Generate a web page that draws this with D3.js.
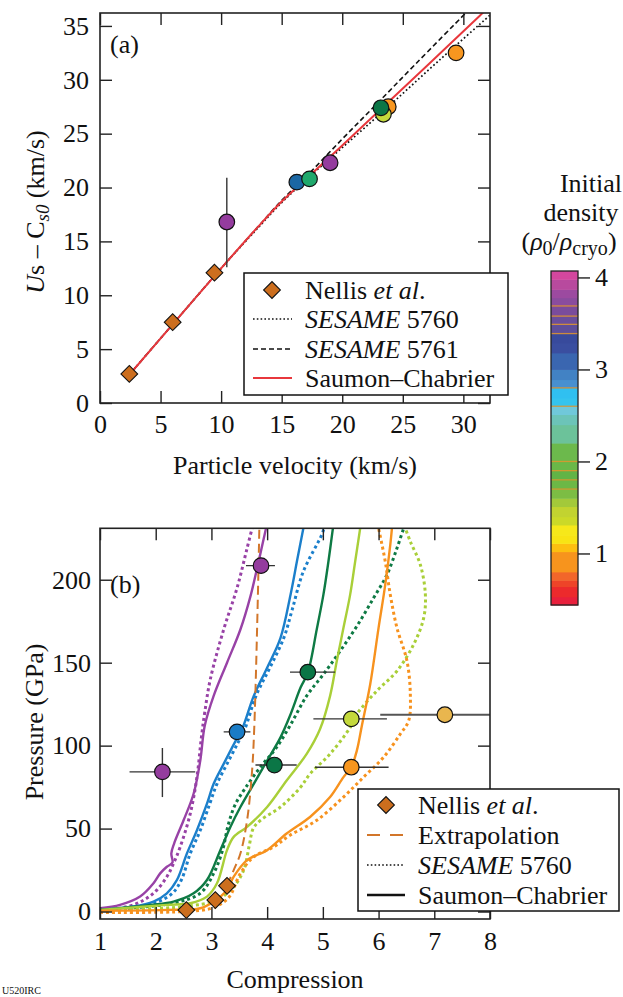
<!DOCTYPE html>
<html><head><meta charset="utf-8">
<script src="https://cdn.jsdelivr.net/npm/d3@7"></script>
<style>
body{margin:0;background:#fff}
svg{display:block}
text{font-family:"Liberation Serif","Times New Roman",serif;fill:#111}
</style>
</head><body>
<svg id="c" width="623" height="997"></svg>
<script>
// ---------------- DATA ----------------
const aTicksX = [0,5,10,15,20,25,30];
const aTicksY = [0,5,10,15,20,25,30,35];
const bTicksX = [1,2,3,4,5,6,7,8];
const bTicksY = [0,50,100,150,200];
const cbTicks = [1,2,3,4];

// Panel (a): Us - Cs0 vs particle velocity
const nellisA = [[2.42,2.7],[6.0,7.5],[9.45,12.1]];
const hugSC   = [[2.4,2.6],[6,7.3],[10,12.5],[13,16.3],[15,18.7],[17,20.8],[20,23.9],[23.4,27.5],[27,31.3],[31.4,36.0],[32.5,37.2]];
const hug5761 = [[2.4,2.6],[6,7.3],[10,12.5],[13,16.3],[15,18.8],[17,21.0],[20,24.5],[22.8,27.7],[26,31.4],[30.2,36.2],[31,37.1]];
const hug5760 = [[2.4,2.6],[6,7.3],[10,12.5],[13,16.2],[15,18.6],[17,20.7],[20,23.7],[23.7,27.4],[28,31.8],[32.2,36.0],[33,36.8]];
const pointsA = [
  {g:"P",  x:10.47, y:16.8, xl:10.1, xh:10.84, yl:12.6, yh:20.9},
  {g:"Bd", x:16.25, y:20.5},
  {g:"Gm", x:17.3,  y:20.8},
  {g:"P",  x:19.0,  y:22.3},
  {g:"O",  x:23.8,  y:27.5},
  {g:"Y",  x:23.4,  y:26.8},
  {g:"G",  x:23.2,  y:27.4},
  {g:"O",  x:29.4,  y:32.5}
];

// Panel (b): pressure vs compression
const nellisB = [[2.55,0.9],[3.07,6.9],[3.28,15.5]];
const extrap  = [[3.28,16],[3.40,25],[3.52,35],[3.64,55],[3.73,85],[3.77,112],[3.82,171],[3.86,231]];
const scP  = [[1,2],[1.36,4],[1.72,9],[1.96,17],[2.08,23],[2.2,27],[2.3,29.5],[2.28,35],[2.33,41],[2.5,55],[2.68,71],[2.8,91],[2.88,112],[3.04,130],[3.28,150],[3.52,170],[3.7,190],[3.82,207],[3.94,225],[3.98,231]];
const sesP = [[1,0.5],[1.6,4],[1.96,11],[2.2,21],[2.32,29],[2.44,39],[2.62,59],[2.74,81],[2.82,105],[2.88,120],[2.98,140],[3.22,170],[3.46,195],[3.64,219],[3.73,231]];
const scB  = [[1,1],[1.6,3],[1.96,6],[2.2,11],[2.38,19],[2.56,35],[2.74,49],[2.92,65],[3.04,77],[3.22,89],[3.42,102],[3.55,110],[3.76,130],[4.0,147],[4.24,165],[4.42,191],[4.54,212],[4.65,231]];
const sesB = [[1,0.5],[1.7,3],[2.05,6],[2.3,11],[2.46,19],[2.62,35],[2.8,49],[2.97,65],[3.1,77],[3.28,89],[3.48,102],[3.6,110],[3.8,130],[4.05,147],[4.3,165],[4.45,182],[4.65,205],[4.98,227],[5.02,231]];
const scG  = [[1,1],[1.9,4],[2.32,6],[2.68,11],[2.92,19],[3.16,37],[3.34,51],[3.52,63],[3.76,77],[4.0,91],[4.24,105],[4.41,118],[4.6,135],[4.73,144],[4.89,170],[5.01,191],[5.10,211],[5.18,231]];
const sesG = [[1.5,2],[2.3,5],[2.8,11],[3.04,23],[3.2,37],[3.3,52],[3.42,64],[3.6,74],[3.9,88],[4.15,98],[4.41,112],[4.71,130],[5.01,143],[5.31,157],[5.61,172],[5.91,189],[6.15,203],[6.33,219],[6.45,231]];
const scY  = [[1,1],[2.2,4],[2.62,5],[2.92,9],[3.1,17],[3.28,37],[3.4,45],[3.64,51],[4.0,63],[4.35,79],[4.71,95],[4.95,110],[5.13,130],[5.25,151],[5.37,171],[5.49,191],[5.58,211],[5.67,231]];
const sesY = [[1,0.5],[2.5,3],[3.1,7],[3.4,15],[3.58,25],[3.68,40],[3.75,50],[3.88,55],[4.24,63],[4.6,75],[4.77,83],[5.13,95],[5.49,111],[5.61,119],[5.97,133],[6.33,145],[6.63,161],[6.81,177],[6.84,191],[6.75,209],[6.57,223],[6.48,231]];
const scO  = [[1,0.5],[2.2,1],[2.8,2],[3.04,6],[3.28,13],[3.4,21],[3.64,31],[4.0,37],[4.35,47],[4.77,57],[5.13,69],[5.37,81],[5.51,87],[5.61,97],[5.70,112],[5.85,137],[6.0,171],[6.12,197],[6.21,221],[6.24,231]];
const sesO = [[1,-0.5],[2.5,0],[3.0,2],[3.3,8],[3.52,23],[3.76,33],[4.12,39],[4.41,46],[4.89,55],[5.37,69],[5.73,81],[6.09,93],[6.39,107],[6.54,115],[6.57,131],[6.51,151],[6.33,171],[6.21,191],[6.12,211],[6.0,231]];
const pointsB = [
  {g:"P",  x:3.89, y:208.5, xl:3.62, xh:4.14},
  {g:"P",  x:2.12, y:84.2,  xl:1.53, xh:2.71, yl:69, yh:98.5},
  {g:"B",  x:3.46, y:108.3, xl:3.22, xh:3.70},
  {g:"G",  x:4.73, y:144.3, xl:4.41, xh:5.22},
  {g:"G",  x:4.13, y:88.3,  xl:3.79, xh:4.53},
  {g:"Y",  x:5.51, y:116.1, xl:4.83, xh:6.15},
  {g:"O",  x:5.51, y:87.0,  xl:4.86, xh:6.18},
  {g:"Au", x:7.19, y:118.6, xl:6.03, xh:8.6}
];

// Colorbar bands: [low, high, colour]
const cbBands = [
  [0.44,0.53,"#e8203c"],[0.53,0.64,"#ec2a2c"],[0.64,0.71,"#ee4428"],[0.71,0.80,"#f2662a"],
  [0.80,1.02,"#f7941d"],[1.02,1.11,"#fdbf10"],[1.11,1.20,"#f8e414"],[1.20,1.31,"#f6e81a"],
  [1.31,1.40,"#cbd928"],[1.40,1.51,"#c2d330"],[1.51,1.60,"#a3c93a"],[1.60,1.70,"#7cbd44"],
  [1.70,1.80,"#6cb846"],[1.80,1.90,"#62b446"],[1.90,2.00,"#6ab848"],[2.00,2.20,"#6cb94c"],
  [2.20,2.40,"#6cc29a"],[2.40,2.51,"#6cc4b8"],[2.51,2.60,"#70c8da"],[2.60,2.69,"#34c4ee"],
  [2.69,2.80,"#30c0f0"],[2.80,2.89,"#4890d0"],[2.89,3.00,"#4282c4"],[3.00,3.18,"#3a66b0"],
  [3.18,3.29,"#3a4ea0"],[3.29,3.39,"#384a9c"],[3.39,3.49,"#5e4e9a"],[3.49,3.58,"#6a4e9c"],
  [3.58,3.69,"#7a4c9c"],[3.69,3.78,"#8a4c9e"],[3.78,3.87,"#9c4aa0"],[3.87,3.98,"#b84a9e"],
  [3.98,4.07,"#d4479e"]
];
const cbSeams = [1.7,1.8,1.9,2.0,2.6,2.8,3.39,3.49,3.58,3.69];

// ---------------- STYLE / LAYOUT ----------------
const col = {P:"#9842a6",B:"#1b7fcb",G:"#0e7a44",Y:"#a9cf38",O:"#f7921e"};
const fillPt = {P:"#943c9e",Bd:"#1b67a4",Gm:"#1fa86c",G:"#0b7646",Y:"#c4d93c",O:"#f7961f",Au:"#e9b64e",B:"#1a7cc6"};

const svg = d3.select("#c");
const FS = 26;

function frameAxes(g, x, y, xt, yt, X0, X1, Y0, Y1, pad) {
  const tk = 12;
  g.append("g").attr("transform",`translate(0,${Y1})`)
    .call(d3.axisBottom(x).tickValues(xt).tickSizeInner(-tk).tickSizeOuter(0).tickPadding(pad.x).tickFormat(d3.format("d")));
  g.append("g").attr("transform",`translate(0,${Y0})`)
    .call(d3.axisTop(x).tickValues(xt).tickSizeInner(-tk).tickSizeOuter(0).tickFormat(""));
  g.append("g").attr("transform",`translate(${X0},0)`)
    .call(d3.axisLeft(y).tickValues(yt).tickSizeInner(-tk).tickSizeOuter(0).tickPadding(pad.y).tickFormat(d3.format("d")));
  g.append("g").attr("transform",`translate(${X1},0)`)
    .call(d3.axisRight(y).tickValues(yt).tickSizeInner(-tk).tickSizeOuter(0).tickFormat(""));
  g.selectAll(".domain").remove();
  g.selectAll(".tick line").attr("stroke","#222").attr("stroke-width",1.4);
  g.selectAll(".tick text").attr("font-size",FS).attr("fill","#111");
  g.append("rect").attr("x",X0).attr("y",Y0).attr("width",X1-X0).attr("height",Y1-Y0)
    .attr("fill","none").attr("stroke","#222").attr("stroke-width",1.6);
}

function diamond(g, x, y, data) {
  g.selectAll(null).data(data).join("path")
    .attr("d", d3.symbol(d3.symbolSquare, 140)())
    .attr("transform", d => `translate(${x(d[0])},${y(d[1])}) rotate(45)`)
    .attr("fill","#cc6e1e").attr("stroke","#111").attr("stroke-width",1.1);
}

// ---------------- PANEL A ----------------
{
  const X0=100,X1=490,Y0=13,Y1=403;
  const x = d3.scaleLinear([0,32.2],[X0,X1]);
  const y = d3.scaleLinear([0,36.2],[Y1,Y0]);
  const g = svg.append("g");
  svg.append("clipPath").attr("id","clipA").append("rect").attr("x",X0).attr("y",Y0).attr("width",X1-X0).attr("height",Y1-Y0);
  const pl = g.append("g").attr("clip-path","url(#clipA)");
  const line = d3.line().x(d=>x(d[0])).y(d=>y(d[1])).curve(d3.curveCatmullRom.alpha(0.5));
  pl.append("path").attr("d",line(hug5760)).attr("fill","none").attr("stroke","#111").attr("stroke-width",1.7).attr("stroke-dasharray","1.7,2.4");
  pl.append("path").attr("d",line(hug5761)).attr("fill","none").attr("stroke","#111").attr("stroke-width",1.6).attr("stroke-dasharray","5,3");
  pl.append("path").attr("d",line(hugSC)).attr("fill","none").attr("stroke","#e8373c").attr("stroke-width",2);
  // error bars
  pointsA.filter(d=>d.xl!==undefined).forEach(d=>{
    pl.append("line").attr("x1",x(d.xl)).attr("x2",x(d.xh)).attr("y1",y(d.y)).attr("y2",y(d.y)).attr("stroke","#333").attr("stroke-width",1.4);
    pl.append("line").attr("x1",x(d.x)).attr("x2",x(d.x)).attr("y1",y(d.yl)).attr("y2",y(d.yh)).attr("stroke","#333").attr("stroke-width",1.4);
  });
  pl.selectAll("circle").data(pointsA).join("circle")
    .attr("cx",d=>x(d.x)).attr("cy",d=>y(d.y)).attr("r",7.8)
    .attr("fill",d=>fillPt[d.g]).attr("stroke","#111").attr("stroke-width",1.2);
  diamond(pl, x, y, nellisA);
  frameAxes(g, x, y, aTicksX, aTicksY, X0, X1, Y0, Y1, {x:12, y:11});
  g.append("text").attr("x",110).attr("y",53).attr("font-size",FS).text("(a)");
  // axis titles
  g.append("text").attr("x",295).attr("y",474).attr("text-anchor","middle").attr("font-size",FS).text("Particle velocity (km/s)");
  const yt = g.append("text").attr("transform","translate(44,212) rotate(-90)").attr("text-anchor","middle").attr("font-size",FS);
  yt.append("tspan").attr("font-style","italic").text("U");
  yt.append("tspan").text("s \u2013 C");
  yt.append("tspan").attr("font-style","italic").attr("font-size",19).attr("dy",5).text("s0");
  yt.append("tspan").attr("dy",-5).text(" (km/s)");
  // legend
  const L = g.append("g");
  L.append("rect").attr("x",244).attr("y",273).attr("width",264).attr("height",122).attr("fill","#fff").attr("stroke","#111").attr("stroke-width",1.5);
  const rows = [290,319,349,378];
  L.append("path").attr("d",d3.symbol(d3.symbolSquare,140)()).attr("transform",`translate(272,${rows[0]}) rotate(45)`).attr("fill","#cc6e1e").attr("stroke","#111").attr("stroke-width",1.1);
  L.append("line").attr("x1",253).attr("x2",292).attr("y1",rows[1]).attr("y2",rows[1]).attr("stroke","#111").attr("stroke-width",1.6).attr("stroke-dasharray","1.6,2.2");
  L.append("line").attr("x1",253).attr("x2",292).attr("y1",rows[2]).attr("y2",rows[2]).attr("stroke","#111").attr("stroke-width",1.6).attr("stroke-dasharray","5,3");
  L.append("line").attr("x1",253).attr("x2",292).attr("y1",rows[3]).attr("y2",rows[3]).attr("stroke","#e8373c").attr("stroke-width",2.2);
  const t0 = L.append("text").attr("x",305).attr("y",rows[0]).attr("dy","0.35em").attr("font-size",FS);
  t0.append("tspan").text("Nellis ");
  t0.append("tspan").attr("font-style","italic").text("et al");
  t0.append("tspan").text(".");
  const t1 = L.append("text").attr("x",305).attr("y",rows[1]).attr("dy","0.35em").attr("font-size",FS);
  t1.append("tspan").attr("font-style","italic").text("SESAME");
  t1.append("tspan").text(" 5760");
  const t2 = L.append("text").attr("x",305).attr("y",rows[2]).attr("dy","0.35em").attr("font-size",FS);
  t2.append("tspan").attr("font-style","italic").text("SESAME");
  t2.append("tspan").text(" 5761");
  L.append("text").attr("x",305).attr("y",rows[3]).attr("dy","0.35em").attr("font-size",FS).text("Saumon\u2013Chabrier");
}

// ---------------- PANEL B ----------------
{
  const X0=100,X1=490,Y0=528.3,Y1=919;
  const x = d3.scaleLinear([1,8],[X0,X1]);
  const y = d3.scaleLinear([-4.5,231],[Y1,Y0]);
  const g = svg.append("g");
  svg.append("clipPath").attr("id","clipB").append("rect").attr("x",X0).attr("y",Y0).attr("width",X1-X0).attr("height",Y1-Y0);
  const pl = g.append("g").attr("clip-path","url(#clipB)");
  const line = d3.line().x(d=>x(d[0])).y(d=>y(d[1])).curve(d3.curveCatmullRom.alpha(0.5));
  const curves = [
    {g:"P",s:"ses",d:sesP},{g:"P",s:"sc",d:scP},
    {g:"B",s:"ses",d:sesB},{g:"B",s:"sc",d:scB},
    {g:"G",s:"ses",d:sesG},{g:"G",s:"sc",d:scG},
    {g:"Y",s:"ses",d:sesY},{g:"Y",s:"sc",d:scY},
    {g:"O",s:"ses",d:sesO},{g:"O",s:"sc",d:scO}
  ];
  curves.forEach(c=>{
    const p = pl.append("path").attr("d",line(c.d)).attr("fill","none").attr("stroke",col[c.g]);
    if (c.s==="ses") p.attr("stroke-width",3).attr("stroke-dasharray","3,3");
    else p.attr("stroke-width",2.4);
  });
  pl.append("path").attr("d",line(extrap)).attr("fill","none").attr("stroke","#d2762a").attr("stroke-width",2).attr("stroke-dasharray","9,5");
  pointsB.forEach(d=>{
    pl.append("line").attr("x1",x(d.xl)).attr("x2",x(d.xh)).attr("y1",y(d.y)).attr("y2",y(d.y)).attr("stroke",d.g==="Au"?"#555":"#333").attr("stroke-width",d.g==="Au"?1.8:1.4);
    if (d.yl!==undefined) pl.append("line").attr("x1",x(d.x)).attr("x2",x(d.x)).attr("y1",y(d.yl)).attr("y2",y(d.yh)).attr("stroke","#333").attr("stroke-width",1.4);
  });
  pl.selectAll("circle").data(pointsB).join("circle")
    .attr("cx",d=>x(d.x)).attr("cy",d=>y(d.y)).attr("r",7.8)
    .attr("fill",d=>fillPt[d.g]).attr("stroke","#111").attr("stroke-width",1.2);
  diamond(pl, x, y, nellisB);
  frameAxes(g, x, y, bTicksX, bTicksY, X0, X1, Y0, Y1, {x:13, y:9});
  g.append("text").attr("x",110).attr("y",593).attr("font-size",FS).text("(b)");
  g.append("text").attr("x",295).attr("y",988).attr("text-anchor","middle").attr("font-size",FS).text("Compression");
  g.append("text").attr("transform","translate(43,722) rotate(-90)").attr("text-anchor","middle").attr("font-size",FS).text("Pressure (GPa)");
  // legend
  const L = g.append("g");
  L.append("rect").attr("x",358).attr("y",789).attr("width",261).attr("height",122).attr("fill","#fff").attr("stroke","#111").attr("stroke-width",1.5);
  const rows = [805,835,865,895];
  L.append("path").attr("d",d3.symbol(d3.symbolSquare,140)()).attr("transform",`translate(386,${rows[0]}) rotate(45)`).attr("fill","#cc6e1e").attr("stroke","#111").attr("stroke-width",1.1);
  L.append("line").attr("x1",367).attr("x2",405).attr("y1",rows[1]).attr("y2",rows[1]).attr("stroke","#d2762a").attr("stroke-width",2).attr("stroke-dasharray","13,10");
  L.append("line").attr("x1",367).attr("x2",405).attr("y1",rows[2]).attr("y2",rows[2]).attr("stroke","#111").attr("stroke-width",1.5).attr("stroke-dasharray","1.6,2.2");
  L.append("line").attr("x1",367).attr("x2",405).attr("y1",rows[3]).attr("y2",rows[3]).attr("stroke","#111").attr("stroke-width",2.6);
  const t0 = L.append("text").attr("x",418).attr("y",rows[0]).attr("dy","0.35em").attr("font-size",FS);
  t0.append("tspan").text("Nellis ");
  t0.append("tspan").attr("font-style","italic").text("et al");
  t0.append("tspan").text(".");
  L.append("text").attr("x",418).attr("y",rows[1]).attr("dy","0.35em").attr("font-size",FS).text("Extrapolation");
  const t2 = L.append("text").attr("x",418).attr("y",rows[2]).attr("dy","0.35em").attr("font-size",FS);
  t2.append("tspan").attr("font-style","italic").text("SESAME");
  t2.append("tspan").text(" 5760");
  L.append("text").attr("x",418).attr("y",rows[3]).attr("dy","0.35em").attr("font-size",FS).text("Saumon\u2013Chabrier");
}

// ---------------- COLORBAR ----------------
{
  const CX0=551, CX1=578;
  const cs = d3.scaleLinear([0.44,4.07],[605,271]);
  const g = svg.append("g");
  g.selectAll("rect.band").data(cbBands).join("rect").attr("class","band")
    .attr("x",CX0).attr("width",CX1-CX0)
    .attr("y",d=>cs(d[1])).attr("height",d=>cs(d[0])-cs(d[1])+0.5)
    .attr("fill",d=>d[2]);
  g.selectAll("line.seam").data(cbSeams).join("line").attr("class","seam")
    .attr("x1",CX0).attr("x2",CX1).attr("y1",d=>cs(d)).attr("y2",d=>cs(d))
    .attr("stroke","#e0962c").attr("stroke-width",1.3).attr("opacity",0.85);
  g.append("rect").attr("x",CX0).attr("y",271).attr("width",CX1-CX0).attr("height",334)
    .attr("fill","none").attr("stroke","#222").attr("stroke-width",1.3);
  g.append("g").attr("transform",`translate(${CX1},0)`)
    .call(d3.axisRight(cs).tickValues(cbTicks).tickSizeInner(12).tickSizeOuter(0).tickPadding(5).tickFormat(d3.format("d")))
    .call(a=>a.select(".domain").remove())
    .call(a=>a.selectAll(".tick line").attr("stroke","#222").attr("stroke-width",1.4))
    .call(a=>a.selectAll(".tick text").attr("font-size",FS).attr("fill","#111"));
  g.append("text").attr("x",591).attr("y",192).attr("text-anchor","middle").attr("font-size",FS).text("Initial");
  g.append("text").attr("x",581).attr("y",221).attr("text-anchor","middle").attr("font-size",FS).text("density");
  const t = g.append("text").attr("x",569).attr("y",250).attr("text-anchor","middle").attr("font-size",FS);
  t.append("tspan").text("(");
  t.append("tspan").attr("font-style","italic").text("\u03c1");
  t.append("tspan").attr("font-size",20).attr("dy",5).text("0");
  t.append("tspan").attr("dy",-5).text("/");
  t.append("tspan").attr("font-style","italic").text("\u03c1");
  t.append("tspan").attr("font-size",20).attr("dy",5).text("cryo");
  t.append("tspan").attr("dy",-5).text(")");
}

svg.append("text").attr("x",2).attr("y",994).attr("font-size",10).text("U520IRC");
</script>
</body></html>
